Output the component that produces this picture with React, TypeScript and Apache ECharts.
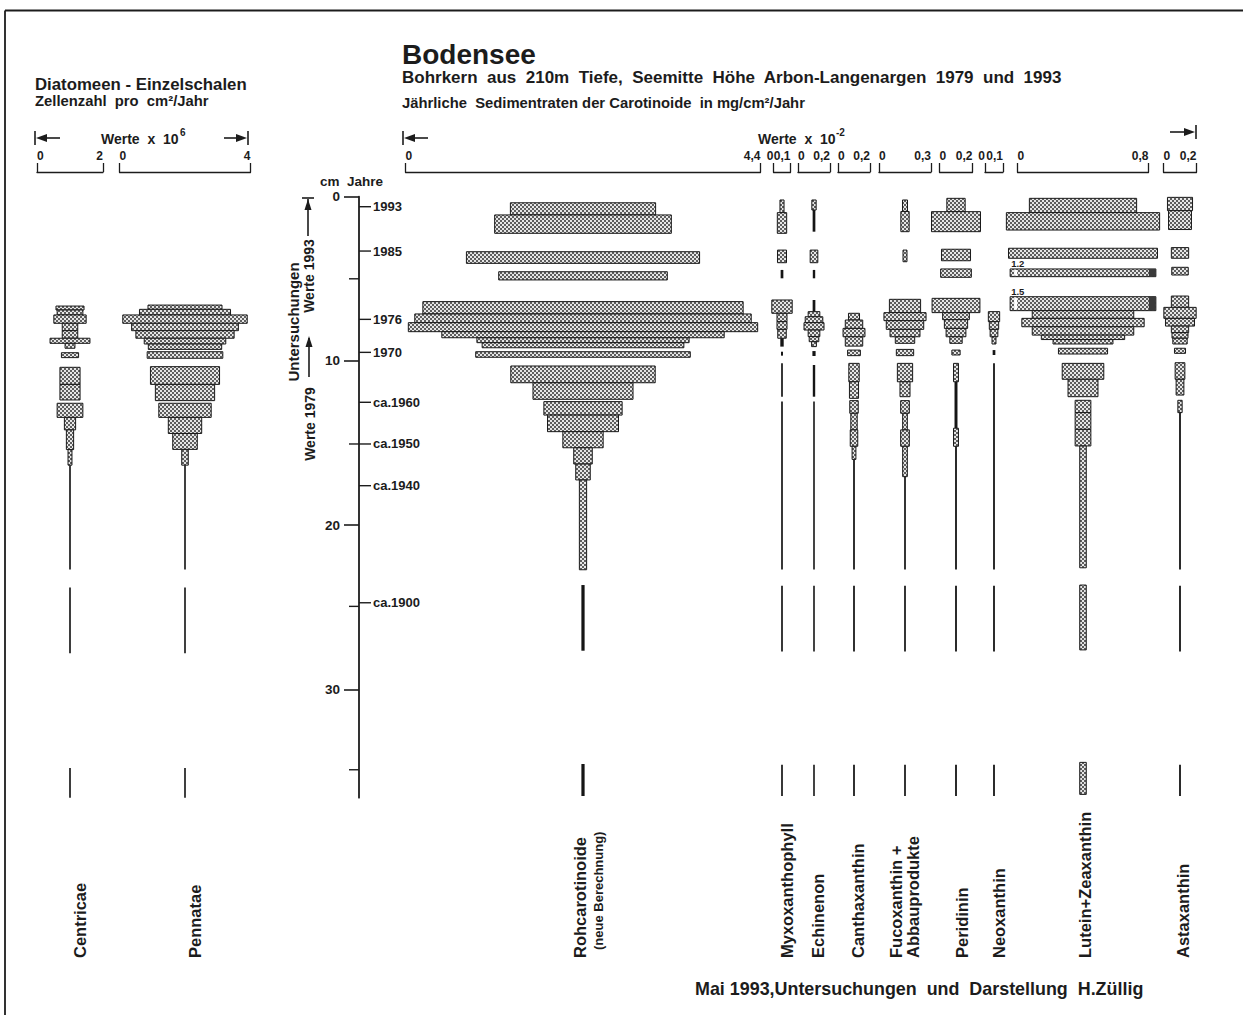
import React, { useEffect, useRef } from "react";
import * as echarts from "echarts";

// ---------------- data ----------------
// each segment: [top depth cm, bottom depth cm, value]
const COLUMN_NAMES = [
  "Centricae", "Pennatae", "Rohcarotinoide", "Myxoxanthophyll", "Echinenon",
  "Canthaxanthin", "Fucoxanthin +", "Peridinin", "Neoxanthin", "Lutein+Zeaxanthin", "Astaxanthin",
];
const COLUMN_SUBNAMES = ["", "", "(neue Berechnung)", "", "", "", "Abbauprodukte", "", "", "", ""];
const SCALE_MAX = [2, 4, 4.4, 0.1, 0.2, 0.2, 0.3, 0.2, 0.1, 0.8, 0.2];

const CENTRICAE = [
  [6.66, 6.9, 0.85], [6.9, 7.2, 0.78], [7.2, 7.71, 0.98], [7.71, 8.16, 0.47], [8.16, 8.62, 0.47],
  [8.62, 8.93, 1.21], [8.93, 9.23, 0.3], [9.5, 9.8, 0.52], [10.39, 11.43, 0.61], [11.43, 12.38, 0.61],
  [12.58, 13.44, 0.78], [13.44, 14.2, 0.34], [14.2, 15.4, 0.22], [15.4, 16.35, 0.12],
  [16.35, 22.7, 0.05], [23.8, 27.8, 0.05], [34.8, 36.6, 0.05],
];
const PENNATAE = [
  [6.6, 6.86, 2.26], [6.86, 7.2, 2.78], [7.2, 7.71, 3.8], [7.71, 8.16, 3.26], [8.16, 8.62, 3.0],
  [8.62, 8.97, 2.49], [8.97, 9.3, 2.24], [9.44, 9.84, 2.31], [10.35, 11.43, 2.11], [11.43, 12.42, 1.81],
  [12.58, 13.44, 1.6], [13.44, 14.42, 1.02], [14.42, 15.39, 0.75], [15.39, 16.35, 0.2],
  [16.35, 22.7, 0.05], [23.8, 27.8, 0.05], [34.8, 36.6, 0.05],
];
const ROHCAROTINOIDE = [
  [0.37, 1.11, 1.8], [1.11, 2.23, 2.19], [3.35, 4.06, 2.89], [4.57, 5.07, 2.09], [6.39, 7.14, 3.97],
  [7.14, 7.67, 4.17], [7.67, 8.22, 4.33], [8.22, 8.59, 3.5], [8.59, 8.89, 2.63], [8.89, 9.2, 2.5],
  [9.44, 9.78, 2.66], [10.31, 11.33, 1.79], [11.33, 12.34, 1.24], [12.48, 13.3, 0.97], [13.3, 14.31, 0.88],
  [14.31, 15.29, 0.5], [15.29, 16.28, 0.23], [16.28, 17.25, 0.18], [17.25, 22.72, 0.09],
  [23.65, 27.65, 0.04], [34.55, 36.5, 0.04],
];
const MYXOXANTHOPHYLL = [
  [0.2, 0.97, 0.024], [0.97, 2.23, 0.055], [3.25, 4.02, 0.053], [4.46, 4.97, 0.016], [6.29, 7.1, 0.12],
  [7.1, 7.61, 0.059], [7.61, 8.08, 0.059], [8.08, 8.62, 0.05], [8.62, 9.13, 0.02], [9.44, 9.68, 0.012],
  [10.15, 12.18, 0.01], [12.48, 22.7, 0.01], [23.7, 27.7, 0.01], [34.6, 36.5, 0.01],
];
const ECHINENON = [
  [0.2, 0.81, 0.027], [0.81, 2.13, 0.017], [3.25, 4.02, 0.048], [4.46, 4.97, 0.015], [6.29, 7.0, 0.017],
  [7.0, 7.31, 0.073], [7.31, 7.67, 0.11], [7.67, 8.12, 0.125], [8.12, 8.52, 0.073], [8.52, 8.83, 0.06],
  [8.83, 9.13, 0.03], [9.4, 9.7, 0.02], [10.25, 12.18, 0.015], [12.48, 22.7, 0.01], [23.7, 27.7, 0.01],
  [34.6, 36.5, 0.01],
];
const CANTHAXANTHIN = [
  [7.1, 7.51, 0.069], [7.51, 8.02, 0.109], [8.02, 8.53, 0.137], [8.53, 9.1, 0.109], [9.34, 9.68, 0.08],
  [10.15, 11.27, 0.065], [11.27, 12.28, 0.057], [12.42, 13.19, 0.053], [13.19, 14.2, 0.04],
  [14.2, 15.2, 0.047], [15.2, 16.0, 0.024], [16.0, 22.7, 0.011], [23.7, 27.7, 0.011], [34.6, 36.5, 0.011],
];
const FUCOXANTHIN = [
  [0.2, 0.9, 0.029], [0.9, 2.13, 0.048], [3.25, 3.96, 0.023], [6.25, 7.06, 0.18], [7.06, 7.55, 0.243],
  [7.55, 8.08, 0.216], [8.08, 8.53, 0.173], [8.53, 8.93, 0.112], [9.3, 9.68, 0.1], [10.15, 11.27, 0.088],
  [11.27, 12.18, 0.058], [12.42, 13.19, 0.05], [13.19, 14.2, 0.027], [14.2, 15.2, 0.05], [15.2, 17.05, 0.027],
  [17.05, 22.7, 0.01], [23.7, 27.7, 0.01], [34.6, 36.5, 0.01],
];
const PERIDININ = [
  [0.1, 0.91, 0.111], [0.91, 2.13, 0.297], [3.2, 3.9, 0.176], [4.4, 4.91, 0.186], [6.19, 7.06, 0.29],
  [7.06, 7.49, 0.162], [7.49, 8.02, 0.141], [8.02, 8.53, 0.12], [8.53, 8.93, 0.075], [9.34, 9.64, 0.05],
  [10.15, 11.27, 0.03], [11.27, 14.1, 0.018], [14.1, 15.2, 0.03], [15.2, 22.7, 0.011], [23.7, 27.7, 0.011],
  [34.6, 36.5, 0.011],
];
const NEOXANTHIN = [
  [7.0, 7.61, 0.063], [7.61, 8.08, 0.052], [8.08, 8.53, 0.043], [8.53, 8.97, 0.022], [9.34, 9.64, 0.015],
  [10.15, 22.7, 0.01], [23.7, 27.7, 0.01], [34.6, 36.5, 0.01],
];
const LUTEIN_ZEAXANTHIN = [
  [0.1, 0.97, 0.655], [0.97, 2.03, 0.936], [3.14, 3.75, 0.91], [4.4, 4.87, 1.2], [6.09, 6.94, 1.5],
  [6.94, 7.41, 0.62], [7.41, 7.92, 0.747], [7.92, 8.43, 0.62], [8.43, 8.7, 0.509], [8.7, 8.97, 0.366],
  [9.23, 9.58, 0.3], [10.15, 11.12, 0.254], [11.12, 12.18, 0.183], [12.4, 13.15, 0.096], [13.15, 14.17, 0.096],
  [14.17, 15.18, 0.096], [15.18, 22.6, 0.04], [23.65, 27.6, 0.04], [34.45, 36.4, 0.04],
];
const ASTAXANTHIN = [
  [0.04, 0.85, 0.152], [0.85, 2.0, 0.139], [3.1, 3.75, 0.105], [4.3, 4.77, 0.1], [6.05, 6.74, 0.105],
  [6.74, 7.41, 0.196], [7.41, 7.88, 0.176], [7.88, 8.28, 0.105], [8.28, 8.62, 0.097], [8.62, 8.97, 0.087],
  [9.23, 9.54, 0.067], [10.11, 11.12, 0.059], [11.12, 12.08, 0.047], [12.4, 13.15, 0.026],
  [13.15, 22.7, 0.011], [23.7, 27.7, 0.011], [34.6, 36.5, 0.011],
];
const SERIES_DATA = [
  CENTRICAE, PENNATAE, ROHCAROTINOIDE, MYXOXANTHOPHYLL, ECHINENON, CANTHAXANTHIN,
  FUCOXANTHIN, PERIDININ, NEOXANTHIN, LUTEIN_ZEAXANTHIN, ASTAXANTHIN,
];

const DEPTH_TICKS = [0, 10, 20, 30];
const YEAR_DEPTHS = [0.61, 3.31, 7.47, 9.48, 12.52, 15.06, 17.6, 24.73];
const YEAR_LABELS = ["1993", "1985", "1976", "1970", "ca.1960", "ca.1950", "ca.1940", "ca.1900"];
const MINOR_DEPTHS = [5.0, 15.06, 24.95, 34.9];

// ---------------- layout ----------------
const COL_CENTER = [70, 185, 583, 782, 814, 854, 905, 956, 994, 1083, 1180];
const COL_WIDTH = [66, 131, 355, 17, 32, 32, 52, 33, 18, 131, 33];
// values above the threshold are drawn broken, at the display width
const COL_CAP = [0, 0, 0, 0, 0, 0, 0, 0, 0, 1.0, 0];
const COL_CAP_SHOW = [0, 0, 0, 0, 0, 0, 0, 0, 0, 0.89, 0];
const LABEL_X = [80, 195, 580, 787, 818, 858, 896, 962, 999, 1085, 1183];
const SUBLABEL_X = [0, 0, 598, 0, 0, 0, 913, 0, 0, 0, 0];
const PLOT_TOP = 196.7;
const PX_PER_CM = 16.42;
const DEPTH_MAX = 36.6;
const AXIS_X = 359;
const BRACKET_Y = 172;
const FONT = "'Liberation Sans', Arial, Helvetica, sans-serif";
const INK = "#1c1c1c";

function stippleURL(): string {
  const c = document.createElement("canvas");
  c.width = 4;
  c.height = 4;
  const g = c.getContext("2d")!;
  g.fillStyle = "#e6e6e6";
  g.fillRect(0, 0, 4, 4);
  g.fillStyle = "#5e5e5e";
  g.fillRect(0, 0, 2, 2);
  g.fillRect(2, 2, 2, 2);
  return c.toDataURL();
}

const fmt = (v: number) => String(Math.round(v * 100) / 100).replace(".", ",");

function txt(text: string, x: number, y: number, size: number, o: any = {}) {
  return {
    type: "text",
    x,
    y,
    rotation: o.rot || 0,
    silent: true,
    style: {
      text,
      x: 0,
      y: 0,
      fill: INK,
      fontSize: size,
      fontWeight: o.weight || "bold",
      fontFamily: FONT,
      align: o.align || "left",
      textAlign: o.align || "left",
      verticalAlign: o.va || "middle",
      textVerticalAlign: o.va || "middle",
    },
  };
}

function ln(x1: number, y1: number, x2: number, y2: number, w = 1.4) {
  return { type: "line", silent: true, shape: { x1, y1, x2, y2 }, style: { stroke: INK, lineWidth: w } };
}

function leftArrow(x: number, y: number, len: number) {
  return [
    ln(x, y - 7, x, y + 7, 1.6),
    { type: "polygon", silent: true, shape: { points: [[x + 1, y], [x + 12, y - 4], [x + 12, y + 4]] }, style: { fill: INK } },
    ln(x + 12, y, x + len, y, 1.6),
  ];
}
function rightArrow(x: number, y: number, len: number) {
  return [
    ln(x, y - 7, x, y + 7, 1.6),
    { type: "polygon", silent: true, shape: { points: [[x - 1, y], [x - 12, y - 4], [x - 12, y + 4]] }, style: { fill: INK } },
    ln(x - 12, y, x - len, y, 1.6),
  ];
}

export default function App() {
  const ref = useRef<HTMLDivElement>(null);
  useEffect(() => {
    document.body.style.margin = "0";
    const chart = echarts.init(ref.current!, null, { renderer: "svg" });
    const stipple = { image: stippleURL(), repeat: "repeat", imageWidth: 4, imageHeight: 4 };
    const H = DEPTH_MAX * PX_PER_CM;
    const nCols = SCALE_MAX.length;

    const grids: any[] = COL_CENTER.map((c, i) => ({
      left: c - COL_WIDTH[i] / 2, top: PLOT_TOP, width: COL_WIDTH[i], height: H, outerBoundsMode: "none",
    }));
    grids.push({ left: AXIS_X, top: PLOT_TOP, width: 10, height: H, outerBoundsMode: "none" });

    const xAxes: any[] = SCALE_MAX.map((M, i) => ({
      gridIndex: i, type: "value", min: 0, max: M, interval: M, position: "top",
      offset: PLOT_TOP - BRACKET_Y,
      axisLine: { show: true, onZero: false, lineStyle: { color: INK, width: 1.3 } },
      axisTick: { show: true, inside: false, length: 9, lineStyle: { color: INK, width: 1.3 } },
      axisLabel: {
        show: true, margin: 10, fontSize: 12, fontWeight: "bold", fontFamily: FONT, color: INK,
        formatter: (v: number) => fmt(v), showMinLabel: true, showMaxLabel: true,
        alignMinLabel: COL_WIDTH[i] < 25 ? "right" : "left", alignMaxLabel: "right",
      },
      splitLine: { show: false },
    }));
    xAxes.push({ gridIndex: nCols, type: "value", min: 0, max: 1, show: false });

    const yAxes: any[] = SCALE_MAX.map((_, i) => ({
      gridIndex: i, type: "value", min: 0, max: DEPTH_MAX, inverse: true, show: false,
    }));
    yAxes.push({
      gridIndex: nCols, type: "value", min: 0, max: DEPTH_MAX, interval: 10, inverse: true, position: "left",
      axisLine: { show: true, onZero: false, lineStyle: { color: INK, width: 1.8 } },
      axisTick: { show: true, length: 15, customValues: DEPTH_TICKS, lineStyle: { color: INK, width: 1.6 } },
      axisLabel: {
        show: true, customValues: DEPTH_TICKS, margin: 19, fontSize: 13.5, fontWeight: "bold",
        fontFamily: FONT, color: INK, formatter: (v: number) => (v % 10 === 0 ? String(v) : ""),
      },
      splitLine: { show: false },
    });

    const makeRender = (i: number) => (_p: any, api: any) => {
      const top = api.value(0);
      const bot = api.value(1);
      const v = api.value(2);
      const M = SCALE_MAX[i];
      const broken = COL_CAP[i] > 0 && v > COL_CAP[i];
      const shown = broken ? COL_CAP_SHOW[i] : v;
      const a = api.coord([M / 2 - shown / 2, top]);
      const b = api.coord([M / 2 + shown / 2, bot]);
      const x = a[0], y = a[1], w = b[0] - a[0], h = b[1] - a[1];
      if (w < 3.6) {
        const cx = x + w / 2;
        const ww = Math.max(w, 1.6);
        return { type: "rect", shape: { x: cx - ww / 2, y, width: ww, height: h }, style: { fill: "#151515" } };
      }
      const rect = {
        type: "rect", shape: { x, y, width: w, height: h },
        style: { fill: stipple, stroke: "#1a1a1a", lineWidth: 1 },
      };
      if (!broken) return rect;
      return {
        type: "group",
        children: [
          rect,
          { type: "rect", shape: { x: x + 4, y: y + 1, width: 3, height: h - 2 }, style: { fill: "#fff" } },
          { type: "rect", shape: { x: x + w - 7, y, width: 7, height: h }, style: { fill: "#3a3a3a" } },
          {
            type: "text",
            style: {
              text: String(v), x: x + 1, y: y - 0.5, fill: INK, fontSize: 9.5, fontWeight: "bold",
              fontFamily: FONT, align: "left", verticalAlign: "bottom",
            },
          },
        ],
      };
    };

    const series: any[] = SERIES_DATA.map((d, i) => ({
      type: "custom", name: COLUMN_NAMES[i], xAxisIndex: i, yAxisIndex: i, data: d,
      renderItem: makeRender(i), clip: false, silent: true,
    }));
    series.push({
      type: "custom", name: "Jahre", xAxisIndex: nCols, yAxisIndex: nCols,
      data: YEAR_DEPTHS.map((d, k) => [0, d, k]), silent: true, clip: false,
      renderItem: (_p: any, api: any) => {
        const p = api.coord([0, api.value(1)]);
        const label = YEAR_LABELS[api.value(2)];
        return {
          type: "group",
          children: [
            { type: "line", shape: { x1: p[0], y1: p[1], x2: p[0] + 12, y2: p[1] }, style: { stroke: INK, lineWidth: 1.4 } },
            {
              type: "text",
              style: {
                text: label, x: p[0] + 14, y: p[1], fill: INK, fontSize: 13, fontWeight: "bold",
                fontFamily: FONT, align: "left", verticalAlign: "middle",
              },
            },
          ],
        };
      },
    });
    series.push({
      type: "custom", name: "minor", xAxisIndex: nCols, yAxisIndex: nCols,
      data: MINOR_DEPTHS.map((d) => [0, d]), silent: true, clip: false,
      renderItem: (_p: any, api: any) => {
        const p = api.coord([0, api.value(1)]);
        return { type: "line", shape: { x1: p[0] - 10, y1: p[1], x2: p[0], y2: p[1] }, style: { stroke: INK, lineWidth: 1.4 } };
      },
    });

    const g: any[] = [
      // page frame: top and left edges only
      ln(5, 10.5, 1243, 10.5, 1.8),
      ln(5, 10.5, 5, 1015, 1.8),
      txt("Bodensee", 402, 54, 28),
      txt("Bohrkern  aus  210m  Tiefe,  Seemitte  Höhe  Arbon-Langenargen  1979  und  1993", 402, 77, 17),
      txt("Jährliche  Sedimentraten der Carotinoide  in mg/cm²/Jahr", 402, 102.5, 14.8),
      txt("Diatomeen - Einzelschalen", 35, 84, 16.8),
      txt("Zellenzahl  pro  cm²/Jahr", 35, 101, 14.8),
      txt("Werte  x  10", 101, 139, 14),
      txt("6", 180, 132, 10),
      txt("Werte  x  10", 758, 139, 14),
      txt("-2", 836, 132, 10),
      ...leftArrow(35, 138, 25),
      ...rightArrow(248, 138, 24),
      ...leftArrow(403, 138, 25),
      ...rightArrow(1196, 132, 26),
      txt("cm  Jahre", 320, 181.5, 13.5),
      // left side rotated notes
      txt("Untersuchungen", 293, 322, 15, { rot: Math.PI / 2, align: "center" }),
      txt("Werte 1993", 309, 276, 14, { rot: Math.PI / 2, align: "center" }),
      txt("Werte 1979", 310, 424, 14, { rot: Math.PI / 2, align: "center" }),
      ln(308, 199, 308, 236, 1.6),
      ln(302, 198, 314, 198, 1.6),
      { type: "polygon", silent: true, shape: { points: [[308, 199], [304.5, 210], [311.5, 210]] }, style: { fill: INK } },
      ln(309, 338, 309, 377, 1.6),
      { type: "polygon", silent: true, shape: { points: [[309, 336], [305.5, 347], [312.5, 347]] }, style: { fill: INK } },
      txt("Mai 1993,Untersuchungen  und  Darstellung  H.Züllig", 695, 989, 17.9),
    ];
    COLUMN_NAMES.forEach((n, i) => {
      g.push(txt(n, LABEL_X[i], 958, 16.5, { rot: Math.PI / 2 }));
      if (COLUMN_SUBNAMES[i]) g.push(txt(COLUMN_SUBNAMES[i], SUBLABEL_X[i], i === 2 ? 950 : 958, i === 2 ? 13 : 16.5, { rot: Math.PI / 2 }));
    });

    chart.setOption({
      animation: false,
      backgroundColor: "#ffffff",
      grid: grids,
      xAxis: xAxes,
      yAxis: yAxes,
      series,
      graphic: { elements: g },
    });
    return () => chart.dispose();
  }, []);
  return <div ref={ref} style={{ width: 1243, height: 1015 }} />;
}
